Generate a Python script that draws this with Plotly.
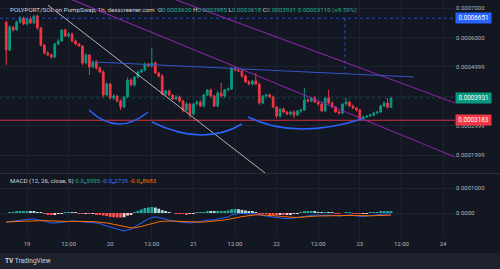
import plotly.graph_objects as go
from datetime import datetime, timedelta

# ---------------- data (prices in units of 1e-7 SOL) ----------------
UNIT = 1e-7
first_open = 6524
close_raw = [
    5572, 6354, 6252, 6524, 6660, 6456, 6626, 6490, 6728, 6320,
    5742, 5470, 5402, 5334, 5776, 5878, 6252, 6048, 6116, 5878,
    5776, 5708, 5130, 5402, 4994, 5164, 4960, 4824, 4042, 4416,
    3940, 4008, 3838, 3634, 3974, 4552, 4382, 4654, 4824, 4892,
    5096, 5028, 5130, 4790, 4688, 4076, 4178, 4042, 3906, 3974,
    3838, 3532, 3736, 3396, 3736, 3804, 3668, 4042, 4212, 4008,
    3668, 4110, 4008, 4212, 4246, 4960, 4892, 4858, 4688, 4484,
    4416, 4518, 4416, 3770, 4008, 4042, 3974, 3634, 3328, 3566,
    3464, 3396, 3464, 3362, 3498, 3532, 3872, 3838, 3940, 3804,
    3736, 3498, 3940, 3770, 3634, 3464, 3430, 3736, 3804, 3668,
    3600, 3532, 3226, 3294, 3328, 3362, 3430, 3464, 3668, 3770,
    3620, 3931]
wick_up = [
    40, 60, 30, 50, 70, 40, 60, 80, 30, 50,
    40, 30, 60, 50, 40, 70, 30, 50, 60, 40,
    50, 40, 30, 60, 40, 50, 70, 40, 60, 50,
    40, 60, 30, 50, 40, 80, 60, 30, 50, 40,
    60, 40, 510, 50, 30, 60, 40, 50, 30, 60,
    40, 50, 70, 30, 40, 60, 50, 40, 30, 50,
    40, 60, 340, 40, 50, 34, 60, 30, 40, 50,
    60, 40, 272, 50, 30, 40, 60, 50, 30, 40,
    50, 30, 40, 60, 40, 30, 408, 50, 40, 60,
    30, 50, 40, 272, 60, 40, 50, 30, 136, 40,
    50, 30, 40, 60, 30, 40, 50, 30, 40, 60,
    170, 54]
wick_dn = [
    510, 40, 50, 30, 60, 40, 50, 30, 40, 60,
    50, 40, 30, 60, 40, 50, 30, 40, 60, 50,
    40, 30, 68, 50, 272, 40, 60, 30, 80, 50,
    40, 60, 50, 102, 40, 30, 50, 60, 40, 30,
    50, 40, 60, 30, 50, 40, 60, 50, 30, 40,
    60, 80, 40, 136, 50, 40, 30, 60, 40, 50,
    30, 40, 50, 60, 40, 30, 50, 40, 60, 30,
    40, 50, 30, 60, 40, 50, 30, 40, 68, 50,
    40, 30, 50, 102, 40, 60, 30, 50, 40, 30,
    60, 40, 30, 50, 40, 30, 50, 40, 60, 30,
    40, 50, 36, 30, 40, 30, 50, 40, 30, 40,
    40, 2]
macd_raw = [
    -360, -340, -320, -300, -280, -260, -240, -240, -240, -260,
    -280, -320, -360, -400, -400, -380, -360, -340, -320, -320,
    -320, -340, -360, -360, -380, -380, -400, -420, -480, -520,
    -580, -620, -660, -700, -720, -680, -640, -560, -480, -400,
    -300, -240, -180, -160, -180, -220, -260, -280, -320, -340,
    -360, -380, -400, -400, -380, -360, -360, -320, -280, -280,
    -280, -240, -220, -200, -160, -80, -40, -20, -20, -20,
    -20, -20, -40, -80, -100, -120, -140, -160, -200, -200,
    -220, -220, -220, -200, -180, -160, -120, -100, -80, -80,
    -80, -100, -80, -80, -80, -100, -120, -100, -80, -80,
    -100, -120, -140, -140, -120, -100, -80, -70, -55, -45,
    -40, -27]
signal_raw = [
    -360, -360, -352, -344, -336, -328, -320, -312, -304, -300,
    -300, -304, -312, -320, -332, -340, -344, -344, -340, -336,
    -332, -332, -332, -336, -340, -344, -352, -360, -380, -400,
    -424, -452, -480, -520, -552, -580, -592, -592, -572, -540,
    -500, -460, -420, -380, -352, -332, -320, -320, -320, -328,
    -336, -344, -352, -360, -368, -368, -368, -360, -352, -340,
    -328, -312, -296, -280, -260, -232, -200, -172, -144, -120,
    -100, -80, -72, -72, -76, -80, -88, -100, -116, -132,
    -148, -160, -172, -176, -176, -172, -164, -152, -140, -128,
    -120, -116, -108, -104, -96, -96, -100, -100, -96, -96,
    -96, -100, -108, -116, -116, -112, -108, -104, -100, -96,
    -92, -87]

price_ticks = [0.0002, 0.0003, 0.0004, 0.0005, 0.0006, 0.0007]
# the 0.0004 label sits fully under the last-price tag in the reference
price_tick_text = ["0.0001999", "0.0002999", "", "0.0004999", "0.0006000", "0.0007000"]
macd_ticks = [0.0, 0.0001]
macd_tick_text = ["0.0000", "0.0001000"]
day0 = datetime(2025, 5, 19)
time_ticks = [day0 + timedelta(hours=12 * k) for k in range(11)]
time_tick_text = ["19", "12:00", "20", "12:00", "21", "12:00", "22", "12:00", "23", "12:00", "24"]

# Drawing tool objects (time, price)
gray_line = [("2025-05-19 06:00", 0.000710), ("2025-05-21 20:40", 0.000139)]
purple_a = [("2025-05-20 16:00", 0.0007407), ("2025-05-24 04:00", 0.0003745)]
purple_b = [("2025-05-19 10:00", 0.0007428), ("2025-05-24 04:00", 0.0001907)]
neckline = [("2025-05-19 19:36", 0.0005164), ("2025-05-23 15:36", 0.0004654)]
arcs = [
    [("2025-05-19_17:54", 0.0003532), ("2025-05-20_02:06", 0.0002614), ("2025-05-20_10:54", 0.0003464)],
    [("2025-05-20_12:03", 0.0003124), ("2025-05-21_02:46", 0.0002274), ("2025-05-21_14:00", 0.0003056)],
    [("2025-05-21_15:44", 0.0003294), ("2025-05-22_05:18", 0.0002512), ("2025-05-23_00:36", 0.0003226)],
]
support_level = 0.0003183
target_level = 0.0006651
last_close = 0.0003931
target_vline = ("2025-05-22 19:43", 0.0006651, 0.000479)

# ---------------- derived series ----------------
n = len(close_raw)
t_first = datetime(2025, 5, 18, 18)
times = [t_first + timedelta(hours=i) for i in range(n)]
open_raw = [first_open] + close_raw[:-1]
opens = [v * UNIT for v in open_raw]
closes = [v * UNIT for v in close_raw]
highs = [(max(o, c) + w) * UNIT for o, c, w in zip(open_raw, close_raw, wick_up)]
lows = [(min(o, c) - w) * UNIT for o, c, w in zip(open_raw, close_raw, wick_dn)]
macd = [v * UNIT for v in macd_raw]
signal = [v * UNIT for v in signal_raw]
hist = [m - s for m, s in zip(macd, signal)]
hist_colors = []
for i, h in enumerate(hist):
    prev = hist[i - 1] if i > 0 else h
    if h >= 0:
        hist_colors.append("#26a69a" if h >= prev else "#b2dfdb")
    else:
        hist_colors.append("#ffcdd2" if h > prev else "#ff5252")

BG = "#131722"
GRID = "#1f2330"
TXT = "#b2b5be"
FONT = "Roboto, 'Noto Sans', sans-serif"
W, H = 500, 269

def py(p):
    return 1 - p / H

fig = go.Figure()
fig.add_trace(go.Candlestick(
    x=times, open=opens, high=highs, low=lows, close=closes,
    increasing=dict(line=dict(color="#089981", width=1), fillcolor="#089981"),
    decreasing=dict(line=dict(color="#f23645", width=1), fillcolor="#f23645"),
    xaxis="x", yaxis="y", showlegend=False, hoverinfo="skip"))
fig.add_trace(go.Bar(x=times, y=hist, marker=dict(color=hist_colors, line_width=0),
                     xaxis="x2", yaxis="y2", showlegend=False, hoverinfo="skip"))
fig.add_trace(go.Scatter(x=times, y=macd, mode="lines", line=dict(color="#2962ff", width=1),
                         xaxis="x2", yaxis="y2", showlegend=False, hoverinfo="skip"))
fig.add_trace(go.Scatter(x=times, y=signal, mode="lines", line=dict(color="#ff6d00", width=1),
                         xaxis="x2", yaxis="y2", showlegend=False, hoverinfo="skip"))

xr = [day0 + timedelta(hours=-27 / 3.467), day0 + timedelta(hours=(455 - 27) / 3.467)]

shapes = [
    dict(type="rect", xref="paper", yref="paper", x0=0, x1=1, y0=0, y1=py(253),
         fillcolor="#1e222d", line_width=0, layer="below"),
    dict(type="line", xref="paper", yref="paper", x0=0, x1=1, y0=py(173.5), y1=py(173.5),
         line=dict(color="#2a2e39", width=1)),
    dict(type="line", xref="x domain", yref="y", x0=0, x1=1, y0=last_close, y1=last_close,
         line=dict(color="rgba(8,153,129,0.35)", width=1, dash="dot")),
    dict(type="line", xref="x domain", yref="y", x0=0, x1=1, y0=target_level, y1=target_level,
         line=dict(color="rgba(41,98,255,0.75)", width=1, dash="3px,3px")),
    dict(type="line", xref="x domain", yref="y", x0=0, x1=1, y0=support_level, y1=support_level,
         line=dict(color="#d8323f", width=1)),
    dict(type="line", xref="x", yref="y", x0=target_vline[0], x1=target_vline[0],
         y0=target_vline[1], y1=target_vline[2],
         line=dict(color="rgba(41,98,255,0.8)", width=1, dash="dot")),
]
for (p0, p1), col, wd in [(gray_line, "#c3c5cb", 0.9), (purple_a, "#8e24aa", 1.1),
                          (purple_b, "#8e24aa", 1.1), (neckline, "#3355c8", 1)]:
    shapes.append(dict(type="line", xref="x", yref="y", x0=p0[0], y0=p0[1], x1=p1[0], y1=p1[1],
                       line=dict(color=col, width=wd)))
for a in arcs:
    path = "M {},{} Q {},{} {},{}".format(a[0][0], a[0][1], a[1][0], a[1][1], a[2][0], a[2][1])
    shapes.append(dict(type="path", xref="x", yref="y", path=path,
                       line=dict(color="#2962ff", width=1.6)))

def lbl(y, text, bg):
    return dict(xref="paper", yref="y", x=455 / W, y=y, xanchor="left", yanchor="middle",
                text=text, showarrow=False, bgcolor=bg, width=34, height=9, borderpad=0.5,
                font=dict(color="white", size=6.3, family=FONT))

G = "#22ab94"
L = "#d1d4dc"
title = (f"<span style='color:{L}'>POLYPORT/SOL on PumpSwap, 1h, dexscreener.com</span>&nbsp;&nbsp;"
         f"<span style='color:{L}'>O</span><span style='color:{G}'>0.0003620</span>&nbsp;"
         f"<span style='color:{L}'>H</span><span style='color:{G}'>0.0003985</span>&nbsp;"
         f"<span style='color:{L}'>L</span><span style='color:{G}'>0.0003618</span>&nbsp;"
         f"<span style='color:{L}'>C</span><span style='color:{G}'>0.0003931</span>&nbsp;"
         f"<span style='color:{G}'>0.00003110 (+8.59%)</span>")
macd_title = (f"<span style='color:{L}'>MACD (12, 26, close, 9)</span>&nbsp;"
              f"<span style='color:#22ab94'>0.0₅5955</span>&nbsp;"
              f"<span style='color:#3d7bff'>-0.0₅2729</span>&nbsp;"
              f"<span style='color:#ff6d00'>-0.0₅8683</span>")

annotations = [
    dict(xref="paper", yref="paper", x=8 / W, y=py(10), xanchor="left", yanchor="middle",
         text=title, showarrow=False, font=dict(size=6.2, family=FONT)),
    dict(xref="paper", yref="paper", x=8 / W, y=py(181), xanchor="left", yanchor="middle",
         text=macd_title, showarrow=False, font=dict(size=6.2, family=FONT)),
    dict(xref="paper", yref="paper", x=3 / W, y=py(261), xanchor="left", yanchor="middle",
         text="<b>TV</b> TradingView", showarrow=False, font=dict(size=6.5, family=FONT, color=L)),
    lbl(target_level, "0.0006651", "#2962ff"),
    lbl(last_close, "0.0003931", "#089981"),
    lbl(support_level, "0.0003183", "#f23645"),
]

fig.update_layout(
    width=W, height=H, margin=dict(l=0, r=0, t=0, b=0),
    paper_bgcolor=BG, plot_bgcolor=BG, font=dict(family=FONT, color=TXT, size=6),
    bargap=0.2, shapes=shapes, annotations=annotations, showlegend=False,
    xaxis=dict(domain=[0, 455 / W], range=xr, anchor="y", type="date",
               tickvals=time_ticks, showticklabels=False, showgrid=True, gridcolor=GRID,
               zeroline=False, rangeslider=dict(visible=False), fixedrange=True),
    xaxis2=dict(domain=[0, 455 / W], range=xr, anchor="y2", type="date", matches="x",
                tickvals=time_ticks, ticktext=time_tick_text, showgrid=True, gridcolor=GRID,
                tickfont=dict(size=6, color=TXT), ticks="", zeroline=False),
    yaxis=dict(domain=[py(173), 1], range=[0.000139, 0.0007272], side="right", anchor="x",
               tickvals=price_ticks, ticktext=price_tick_text, showgrid=True, gridcolor=GRID,
               tickfont=dict(size=6, color=TXT), ticks="", zeroline=False),
    yaxis2=dict(domain=[py(239), py(174)], range=[-0.000104, 0.000156], side="right", anchor="x2",
                tickvals=macd_ticks, ticktext=macd_tick_text, showgrid=True, gridcolor=GRID,
                tickfont=dict(size=6, color=TXT), ticks="", zeroline=False),
)

fig.write_html("out.html")
